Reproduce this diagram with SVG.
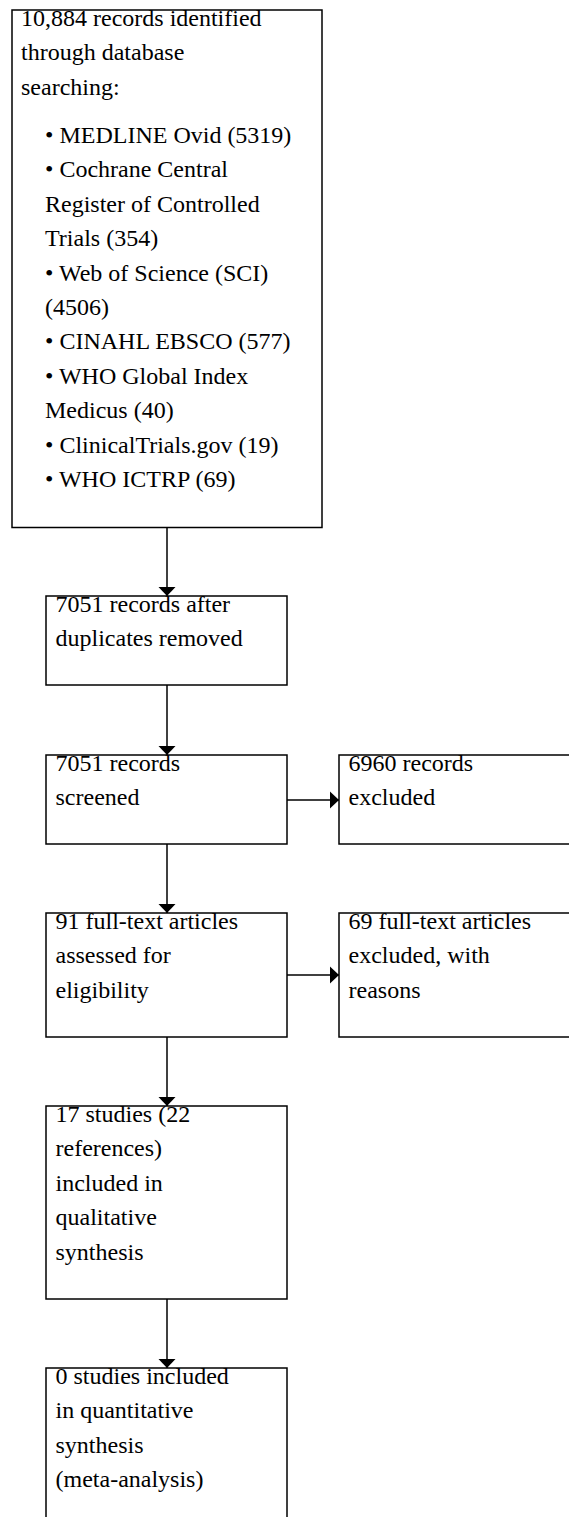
<svg xmlns="http://www.w3.org/2000/svg" width="569" height="1517" viewBox="0 0 569 1517">
<style>
.box{fill:#fff;stroke:#000;stroke-width:1.5}
.t{font-family:"Liberation Serif","Times New Roman",serif;font-size:24px;fill:#000}
.c{stroke:#000;stroke-width:1.5;fill:none;marker-end:url(#ah)}
</style>
<defs>
<marker id="ah" markerUnits="userSpaceOnUse" markerWidth="10" markerHeight="18" refX="9" refY="8.5" orient="auto" overflow="visible">
<path d="M0,0 L9,8.5 L0,17 Z" fill="#000"/>
</marker>
</defs>
<rect width="569" height="1517" fill="#fff"/>
<g id="n1">
<rect class="box" x="12" y="10" width="310" height="517.5"/>
<text class="t">
<tspan x="21" y="26">10,884 records identified</tspan>
<tspan x="21" y="60.4">through database</tspan>
<tspan x="21" y="94.8">searching:</tspan>
<tspan x="45" y="143">• MEDLINE Ovid (5319)</tspan>
<tspan x="45" y="177.4">• Cochrane Central</tspan>
<tspan x="45" y="211.8">Register of Controlled</tspan>
<tspan x="45" y="246.2">Trials (354)</tspan>
<tspan x="45" y="280.6">• Web of Science (SCI)</tspan>
<tspan x="45" y="315">(4506)</tspan>
<tspan x="45" y="349.4">• CINAHL EBSCO (577)</tspan>
<tspan x="45" y="383.8">• WHO Global Index</tspan>
<tspan x="45" y="418.2">Medicus (40)</tspan>
<tspan x="45" y="452.6">• ClinicalTrials.gov (19)</tspan>
<tspan x="45" y="487">• WHO ICTRP (69)</tspan>
</text>
</g>
<g id="n2">
<rect class="box" x="46" y="596" width="241" height="89"/>
<text class="t"><tspan x="55.5" y="612">7051 records after</tspan><tspan x="55.5" y="646.4">duplicates removed</tspan></text>
</g>
<g id="n3">
<rect class="box" x="46" y="755" width="241" height="89"/>
<text class="t"><tspan x="55.5" y="770.5">7051 records</tspan><tspan x="55.5" y="804.9">screened</tspan></text>
</g>
<g id="n4">
<rect class="box" x="339" y="755" width="241" height="89"/>
<text class="t"><tspan x="348.5" y="770.5">6960 records</tspan><tspan x="348.5" y="804.9">excluded</tspan></text>
</g>
<g id="n5">
<rect class="box" x="46" y="913" width="241" height="124"/>
<text class="t"><tspan x="55.5" y="929">91 full-text articles</tspan><tspan x="55.5" y="963.4">assessed for</tspan><tspan x="55.5" y="997.8">eligibility</tspan></text>
</g>
<g id="n6">
<rect class="box" x="339" y="913" width="241" height="124"/>
<text class="t"><tspan x="348.5" y="929">69 full-text articles</tspan><tspan x="348.5" y="963.4">excluded, with</tspan><tspan x="348.5" y="997.8">reasons</tspan></text>
</g>
<g id="n7">
<rect class="box" x="46" y="1106" width="241" height="193"/>
<text class="t"><tspan x="55.5" y="1122">17 studies (22</tspan><tspan x="55.5" y="1156.4">references)</tspan><tspan x="55.5" y="1190.8">included in</tspan><tspan x="55.5" y="1225.2">qualitative</tspan><tspan x="55.5" y="1259.6">synthesis</tspan></text>
</g>
<g id="n8">
<rect class="box" x="46" y="1368" width="241" height="159"/>
<text class="t"><tspan x="55.5" y="1384">0 studies included</tspan><tspan x="55.5" y="1418.4">in quantitative</tspan><tspan x="55.5" y="1452.8">synthesis</tspan><tspan x="55.5" y="1487.2">(meta-analysis)</tspan></text>
</g>
<g id="connectors">
<line class="c" x1="167" y1="527.5" x2="167" y2="596"/>
<line class="c" x1="167" y1="685" x2="167" y2="755"/>
<line class="c" x1="167" y1="844" x2="167" y2="913"/>
<line class="c" x1="167" y1="1037" x2="167" y2="1106"/>
<line class="c" x1="167" y1="1299" x2="167" y2="1368"/>
<line class="c" x1="287" y1="800" x2="339" y2="800"/>
<line class="c" x1="287" y1="975" x2="339" y2="975"/>
</g>
</svg>
